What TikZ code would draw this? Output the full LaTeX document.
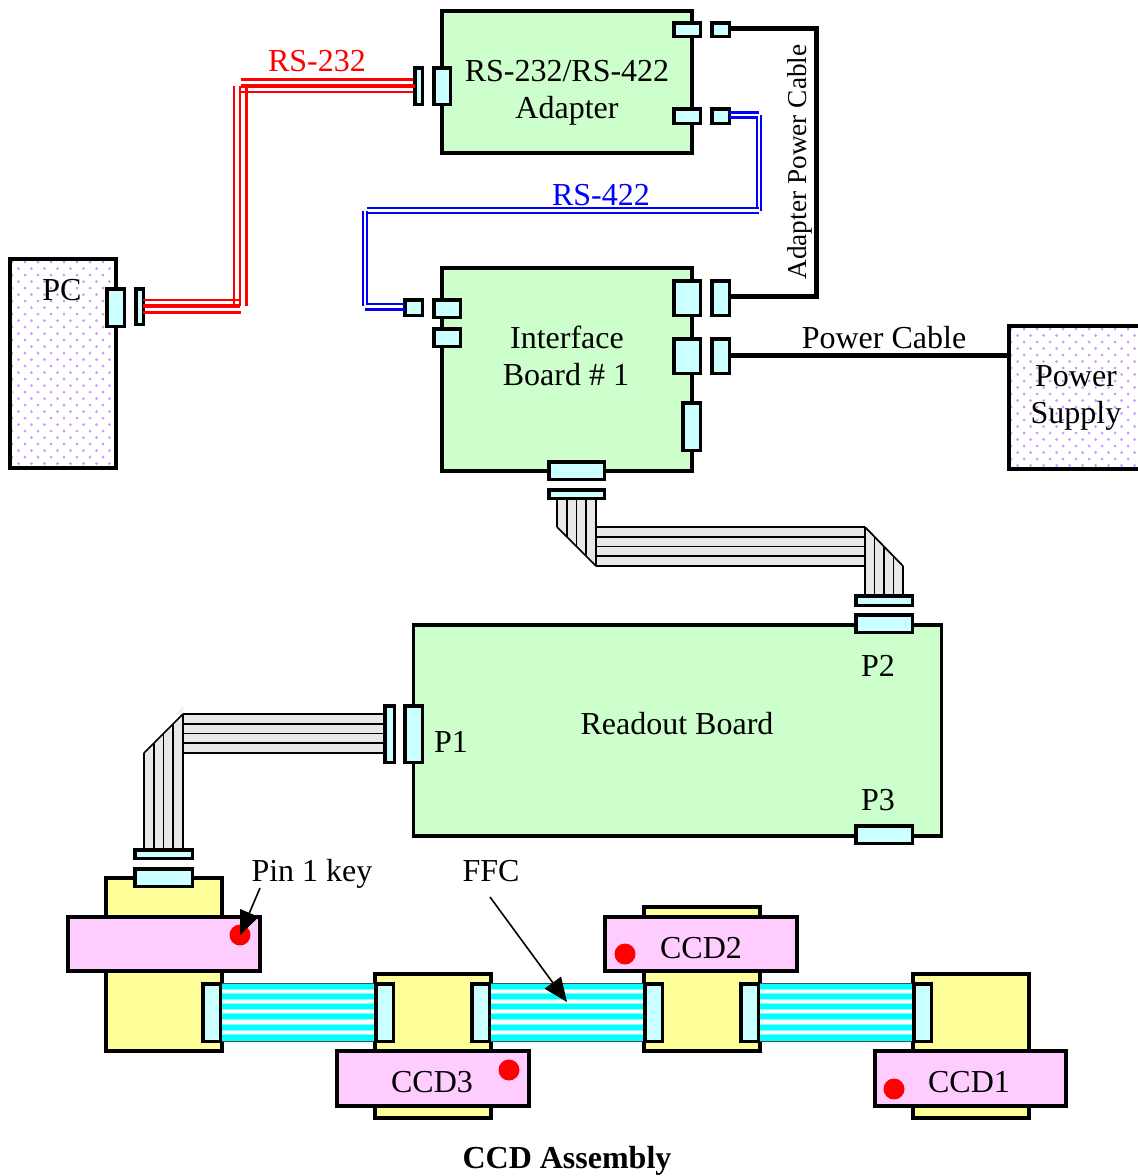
\documentclass[tikz,border=0pt]{standalone}
\usepackage{fontspec}
\setmainfont{Liberation Serif}
\usetikzlibrary{arrows.meta,calc}
\definecolor{boardgreen}{HTML}{CCFFCC}
\definecolor{plugcyan}{HTML}{CCFFFF}
\definecolor{ccdyellow}{HTML}{FFFF99}
\definecolor{ccdpink}{HTML}{FFCCFF}
\definecolor{dotpurple}{HTML}{CC99FF}
\definecolor{ribgrey}{HTML}{E8E8E8}
\definecolor{ffccyan}{RGB}{0,255,255}
\definecolor{ffchalo}{RGB}{130,255,255}
\tikzset{
  bx/.style={draw=black,line width=3.6pt,inner sep=0pt,outer sep=0pt,rectangle},
  board/.style={bx,fill=boardgreen},
  plug/.style={bx,fill=plugcyan},
  ccdbase/.style={bx,fill=ccdyellow},
  ccdtop/.style={bx,fill=ccdpink},
  lbl/.style={anchor=base,inner sep=0pt,font=\fontsize{32}{36}\selectfont,align=center},
  redw/.style={draw=red,line width=2.8pt},
  redk/.style={draw=red,line width=4.4pt},
  bluew/.style={draw=blue,line width=2.4pt},
  powerw/.style={draw=black,line width=5pt,line join=miter},
  rib/.style={draw=black,line width=1.7pt},
  pointer/.style={draw=black,line width=1.6pt,-{Triangle[length=24pt,width=20pt]}},
  keydot/.style={fill=red,draw=none,circle,minimum size=21pt,inner sep=0pt},
}
\newcommand{\bx}[6][]{\node[bx,#1,minimum width={(#5-(#3))*1pt},minimum height={(#6-(#4))*1pt}] (#2) at ({(#3+#5)/2},{(#4+#6)/2}) {};}
% plug box given by its outer edges
\newcommand{\pl}[5]{\node[plug,minimum width={(#4-(#2)-3.4)*1pt},minimum height={(#5-(#3)-3.4)*1pt}] (#1) at ({(#2+#4)/2},{(#3+#5)/2}) {};}
\newcommand{\dotfield}[4]{%
  \begin{scope}
    \clip (#1,#2) rectangle (#3,#4);
    \fill[white] (#1,#2) rectangle (#3,#4);
    \foreach \r in {0,...,36}{
      \foreach \c in {0,...,24}{
        \fill[dotpurple] ({#1+2+13*\c+6.5*mod(\r,2)},{#2+3+6.5*\r}) circle (1.5);
      }
    }
  \end{scope}}
\newcommand{\ffc}[2]{%
  \fill[white] (#1,984) rectangle (#2,1041);
  \foreach \k in {0,...,5}{
    \fill[ffchalo] (#1,{982.5+10.3*\k}) rectangle (#2,{989.5+10.3*\k});
    \fill[ffccyan] (#1,{983.5+10.3*\k}) rectangle (#2,{988.5+10.3*\k});
  }
  \fill[ffccyan] (#1,1035) rectangle (#2,1041);
  \draw[black!70,line width=1.2pt] (#1,983.5) -- (#2,983.5) (#1,1041.5) -- (#2,1041.5);}
\begin{document}
\begin{tikzpicture}[x=1pt,y=-1pt]
\useasboundingbox (0,0) rectangle (1138,1176);
\clip (0,0) rectangle (1138,1176);

% ---- ribbon cable, interface board to readout board
\fill[ribgrey] (557,499) -- (596,499) -- (596,527) -- (865,527) -- (903,566) -- (903,594) -- (865,594) -- (865,566) -- (596,566) -- (557,527) -- cycle;
\foreach \i in {0,...,4}{
  \draw[rib] ({557+9.75*\i},499) -- ({557+9.75*\i},{527+9.75*\i});
  \draw[rib] (596,{527+9.75*\i}) -- (865,{527+9.75*\i});
  \draw[rib] ({865+9.5*\i},{527+9.75*\i}) -- ({865+9.5*\i},594);
}
\draw[rib] (557,527) -- (596,566) (865,527) -- (903,566);

% ---- ribbon cable, readout board to CCD assembly
\fill[ribgrey!70!white] (183,714) -- (183,706) -- (175,714) -- cycle;
\fill[ribgrey] (384,714) -- (183,714) -- (144,753) -- (144,849) -- (183,849) -- (183,753) -- (384,753) -- cycle;
\foreach \i in {0,...,4}{
  \draw[rib] ({144+9.75*\i},{753-9.75*\i}) -- ({144+9.75*\i},849);
  \draw[rib] (183,{714+9.75*\i}) -- (384,{714+9.75*\i});
}
\draw[rib] (144,753) -- (183,714);

% ---- PC
\dotfield{10}{259}{116}{468}
\bx{pc}{10}{259}{116}{468}
\pl{pcjack}{105}{287}{126}{328}
\pl{pcplug}{134}{287}{145}{326}

% ---- Adapter
\bx[board]{adapter}{442}{11}{692}{153}
\pl{adjack}{432}{66}{452}{106}
\pl{adplug}{413}{66}{424}{106}
\pl{adpowjack}{672}{21}{702}{38}
\pl{adpowplug}{710}{21}{731}{38}
\pl{adsigjack}{672}{107}{702}{125}
\pl{adsigplug}{710}{107}{731}{125}

% ---- Interface board
\bx[board]{iface}{442}{268}{692}{471}
\pl{ifsigplug}{403}{298}{424}{317}
\pl{ifsigjack}{432}{298}{462}{319}
\pl{ifjackb}{432}{327}{462}{348}
\pl{ifadjack}{672}{279}{702}{317}
\pl{ifadplug}{710}{279}{731}{317}
\pl{ifpwrjack}{672}{337}{702}{375}
\pl{ifpwrplug}{710}{337}{731}{375}
\pl{ifside}{681}{401}{702}{452}
\pl{ifbotjack}{547}{460}{606}{481}
\pl{ifbotplug}{547}{488}{606}{500}

% ---- Power supply
\dotfield{1009}{326}{1143}{469}
\bx{supply}{1009}{326}{1143}{469}

% ---- Readout board
\bx[board]{readout}{413.5}{625}{941.5}{836}
\pl{ptwoplug}{854}{594}{914}{607}
\pl{ptwojack}{854}{613}{914}{634}
\pl{ponejack}{403}{704}{424}{764}
\pl{poneplug}{383}{704}{396}{764}
\pl{pthreejack}{854}{824}{914}{845}

% ---- Cables
\coordinate (rtA) at (240,86);
\coordinate (rbA) at (240,306);
\draw[redw] (241,79.5) -- (413,79.5);
\draw[redk] (241,86) -- (adplug.west |- 0,86);
\draw[redw] (241,92) -- (413,92);
\draw[redw] (234,86) -- (234,306);
\draw[redw] (rtA) -- (rbA);
\draw[redw] (246.5,86) -- (246.5,306);
\draw[redw] (pcplug.east |- 0,300) -- (241,300);
\draw[redk] (pcplug.east |- 0,306) -- (rbA);
\draw[redw] (pcplug.east |- 0,312.5) -- (241,312.5);

\coordinate (bcR) at (757,117.5);
\coordinate (bcS) at (757,208);
\coordinate (bcT) at (367,208);
\draw[bluew] (adsigplug.east |- 0,112.5) -- (759,112.5);
\draw[bluew] (adsigplug.east |- 0,117.5) -- (bcR) -- (bcS);
\draw[bluew] (761,115) -- (761,211);
\draw[bluew] (759,208) -- (bcT);
\draw[bluew] (759,213) -- (366,213);
\draw[bluew] (362.7,211) -- (362.7,306);
\draw[bluew] (367,211) -- (367,304) -- (ifsigplug.west |- 0,304);
\draw[bluew] (365,309.3) -- (ifsigplug.west |- 0,309.3);

\coordinate (pwrcorner) at (816,28);
\coordinate (pwrlow) at (816,296);
\draw[powerw] (adpowplug.east |- pwrcorner) -- (pwrcorner) -- (pwrlow) -- (ifadplug.east |- pwrlow);
\draw[powerw] (ifpwrplug.east |- 0,355) -- (supply.west |- 0,355);

% ---- CCD assembly
\pl{cableplug}{133}{848}{194}{860}
\bx[ccdbase]{yellowA}{106}{878}{222}{1051}
\bx[ccdbase]{yellowB}{375}{974}{491}{1118}
\bx[ccdbase]{yellowC}{644}{907}{760}{1051}
\bx[ccdbase]{yellowD}{913}{974}{1029}{1118}
\pl{cablejack}{133}{867}{194}{888}
\bx[ccdtop]{pinkA}{68}{917}{260}{971}
\bx[ccdtop]{pinkC}{605}{917}{797}{971}
\bx[ccdtop]{pinkB}{337}{1051}{529}{1106}
\bx[ccdtop]{pinkD}{875}{1051}{1066}{1106}
\ffc{222}{375}
\ffc{490}{644}
\ffc{759}{913}
\pl{fa}{201}{982}{222}{1043}
\pl{fb}{374}{982}{395}{1043}
\pl{fc}{470}{982}{491}{1043}
\pl{fd}{643}{982}{664}{1043}
\pl{fe}{739}{982}{760}{1043}
\pl{ff}{912}{982}{933}{1043}
\node[keydot] (keyA) at (240,935) {};
\node[keydot] (keyB) at (509,1070) {};
\node[keydot] (keyC) at (625,954) {};
\node[keydot] (keyD) at (894,1089) {};

% ---- Labels
\node[lbl,text=red] (t232) at (317,71) {RS-232};
\node[lbl,text=blue] (t422) at (601,205) {RS-422};
\node[lbl] (tad1) at (567,81) {RS-232/RS-422};
\node[lbl] (tad2) at (567,118) {Adapter};
\node[lbl] (tpc) at (62,300) {PC};
\node[lbl,rotate=90,font=\fontsize{27.3}{30}\selectfont] (tapc) at (806,162) {Adapter Power Cable};
\node[lbl] (tpcb) at (884,348) {Power Cable};
\node[lbl] (tif1) at (567,348) {Interface};
\node[lbl] (tif2) at (566,385) {Board \# 1};
\node[lbl] (tps1) at (1076,386) {Power};
\node[lbl] (tps2) at (1076,423) {Supply};
\node[lbl] (trb) at (677,734) {Readout Board};
\node[lbl] (tp1) at (451,752) {P1};
\node[lbl] (tp2) at (878,676) {P2};
\node[lbl] (tp3) at (878,810) {P3};
\node[lbl] (tkey) at (312,881) {Pin 1 key};
\node[lbl] (tffc) at (491,881) {FFC};
\node[lbl] (tc2) at (701,958) {CCD2};
\node[lbl] (tc3) at (432,1092) {CCD3};
\node[lbl] (tc1) at (969,1092) {CCD1};
\node[lbl,font=\fontsize{32}{36}\selectfont\bfseries] (tass) at (567,1168) {CCD Assembly};

% ---- Pointers
\coordinate (keyfoot) at (260,888);
\coordinate (ffcfoot) at (490,897);
\coordinate (ffctip) at (567,1002);
\draw[pointer] (keyfoot) -- (keyA.center);
\draw[pointer] (ffcfoot) -- (ffctip);
\end{tikzpicture}
\end{document}
